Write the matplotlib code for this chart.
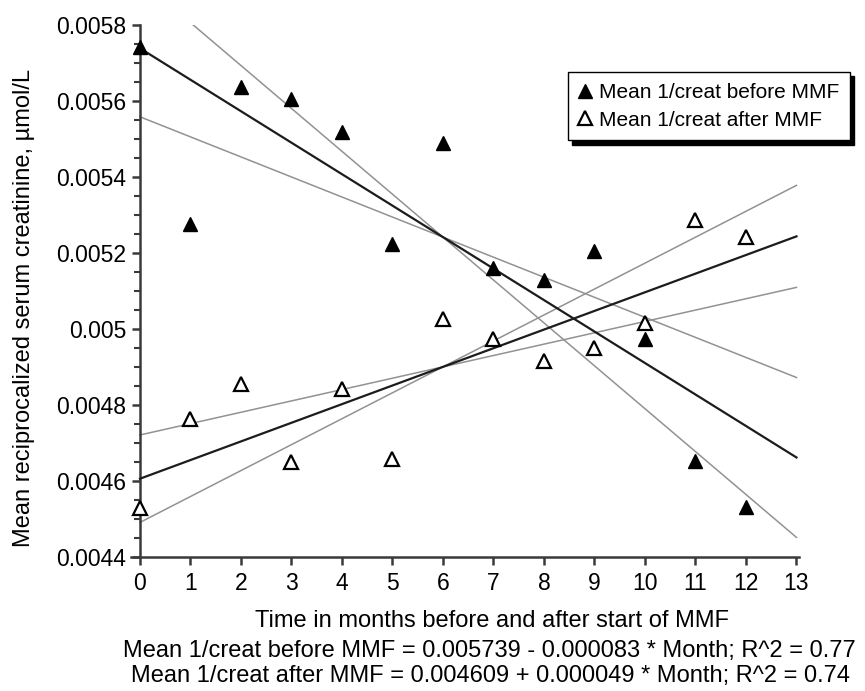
import numpy as np
import matplotlib
matplotlib.use("Agg")
import matplotlib.pyplot as plt
from matplotlib.ticker import MultipleLocator

plt.rcParams["font.family"] = ["Liberation Sans", "DejaVu Sans"]

# data
months = np.arange(0, 13)
before_mmf = [0.005742, 0.005276, 0.005638, 0.005604, 0.005518, 0.005223, 0.005489,
              0.005161, 0.005129, 0.005206, 0.004973, 0.004653, 0.004531]
after_mmf = [0.004528, 0.004762, 0.004855, 0.004649, 0.004842, 0.004657, 0.005026,
             0.004974, 0.004916, 0.004949, 0.005017, 0.005287, 0.005243]
T_CRIT = 2.201  # t(0.975, df=11)

y_ticks = [0.0044, 0.0046, 0.0048, 0.0050, 0.0052, 0.0054, 0.0056, 0.0058]
y_ticklabels = ["0.0044", "0.0046", "0.0048", "0.005", "0.0052", "0.0054",
                "0.0056", "0.0058"]
caption1 = "Mean 1/creat before MMF = 0.005739 - 0.000083 * Month; R^2 = 0.77"
caption2 = "Mean 1/creat after MMF = 0.004609 + 0.000049 * Month; R^2 = 0.74"

W, H = 865, 691
fig = plt.figure(figsize=(W / 100, H / 100), dpi=100)
ax = fig.add_axes([131.4 / W, 134 / H, (799 - 131.4) / W, 532 / H])


def fit_lines(x, y):
    x = np.asarray(x, float)
    y = np.asarray(y, float)
    b, a = np.polyfit(x, y, 1)
    resid = y - (a + b * x)
    s = np.sqrt(np.sum(resid ** 2) / (len(x) - 2))
    se_b = s / np.sqrt(np.sum((x - x.mean()) ** 2))
    return a, b, se_b, x.mean(), y.mean()


xs = np.array([0, 13])
for y in (before_mmf, after_mmf):
    a, b, se_b, xm, ym = fit_lines(months, y)
    # slope +/- t*SE lines through the centroid
    for sl in (b - T_CRIT * se_b, b + T_CRIT * se_b):
        ax.plot(xs, ym + sl * (xs - xm), color="#929292", lw=1.1, zorder=2)
    ax.plot(xs, a + b * xs, color="#1c1c1c", lw=1.6, zorder=3)

ax.plot(months, before_mmf, linestyle="none", marker="^", ms=10, color="black",
        zorder=4, label="Mean 1/creat before MMF")
ax.plot(months, after_mmf, linestyle="none", marker="^", ms=10, mfc="white",
        mec="black", mew=1.6, zorder=4, label="Mean 1/creat after MMF")

ax.set_xlim(-0.17, 13.05)
ax.set_ylim(0.0044, 0.0058)
ax.spines["top"].set_visible(False)
ax.spines["right"].set_visible(False)
ax.spines["left"].set_position(("data", 0))
for s in ("left", "bottom"):
    ax.spines[s].set_color("#3a3a3a")
    ax.spines[s].set_linewidth(1.8)

ax.set_xticks(range(0, 14))
ax.set_yticks(y_ticks)
ax.set_yticklabels(y_ticklabels)
ax.yaxis.set_minor_locator(MultipleLocator(0.00005))
ax.tick_params(axis="y", which="major", length=6, width=1.8, color="#3a3a3a",
               labelsize=16.5, pad=4)
ax.tick_params(axis="y", which="minor", length=4, width=1.5, color="#3a3a3a")
ax.tick_params(axis="x", which="major", length=6, width=1.8, color="#3a3a3a",
               labelsize=16.5, pad=5)

fig.text(24 / W, 1 - 308 / H, "Mean reciprocalized serum creatinine, \u00b5mol/L",
         rotation=90, ha="center", va="center", fontsize=17)
fig.text(492 / W, 1 - 627 / H, "Time in months before and after start of MMF",
         ha="center", va="baseline", fontsize=17)
fig.text(489 / W, 1 - 657 / H, caption1, ha="center", va="baseline", fontsize=17)
fig.text(490 / W, 1 - 682 / H, caption2, ha="center", va="baseline", fontsize=17)

leg = ax.legend(loc="upper left", bbox_to_anchor=(568 / W, 1 - 72 / H),
                bbox_transform=fig.transFigure, borderaxespad=0, fontsize=15,
                frameon=True, fancybox=False,
                shadow={"color": "black", "alpha": 1, "ox": 3, "oy": -3},
                handlelength=0.6, handletextpad=0.35, borderpad=0.52,
                labelspacing=0.42, markerscale=0.95)
leg.get_frame().set_edgecolor("black")
leg.get_frame().set_linewidth(1.0)

fig.savefig("out.png", dpi=100)
